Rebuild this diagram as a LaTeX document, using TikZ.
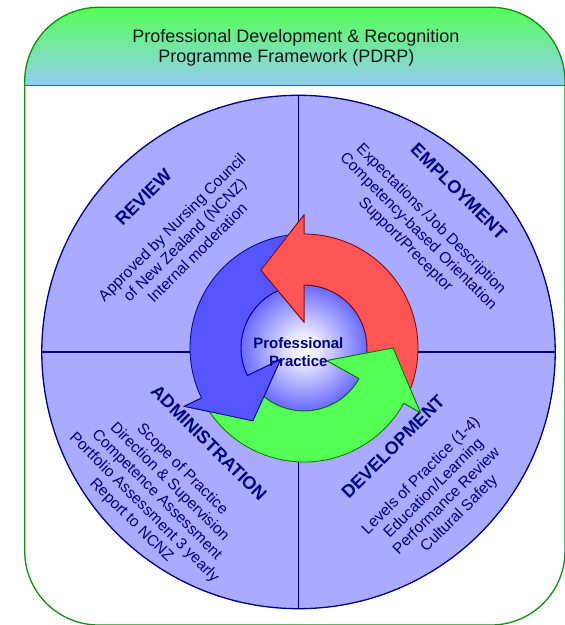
\documentclass[tikz,border=0pt]{standalone}
\usepackage{fontspec}
\setmainfont{Liberation Sans}

\definecolor{ppnavy}{RGB}{0,0,128}
\definecolor{ppdisc}{RGB}{170,170,255}
\definecolor{ppframe}{RGB}{20,140,20}
\definecolor{pphdtop}{RGB}{85,255,85}
\definecolor{pphdbot}{RGB}{150,205,242}
\definecolor{ppred}{RGB}{255,85,85}
\definecolor{ppredline}{RGB}{128,0,0}
\definecolor{ppblue}{RGB}{85,85,255}
\definecolor{ppgreen}{RGB}{85,255,85}
\definecolor{ppgreenline}{RGB}{0,120,0}
\definecolor{ppcoreedge}{RGB}{105,105,255}
\definecolor{ppcoremid}{RGB}{232,232,255}
\definecolor{pphdtext}{RGB}{25,25,25}

% glowing core behind the cycle arrows
\pgfdeclareradialshading{ppcore}{\pgfpoint{0bp}{0bp}}{%
  color(0bp)=(white); color(6bp)=(ppcoremid); color(25bp)=(ppcoreedge); color(50bp)=(ppcoreedge)}

\tikzset{
  frameline/.style={draw=ppframe, line width=1.3pt},
  divider/.style={draw=ppnavy, line width=1.1pt},
  quadtitle/.style={font=\fontsize{18}{20}\selectfont\bfseries, text=ppnavy, inner sep=0pt, align=center},
  quadbody/.style={font=\fontsize{15.5}{18}\selectfont, text=ppnavy, inner sep=0pt, align=center},
  headtext/.style={font=\fontsize{18}{20}\selectfont, text=pphdtext, inner sep=0pt},
  coretext/.style={font=\fontsize{15}{18}\selectfont\bfseries, text=ppnavy, inner sep=0pt, align=center},
}

% curved arrow of the cycle: #1 tail angle, #2 head base angle, #3 fill, #4 outline
\newcommand{\ppcyclearrow}[4]{%
  \filldraw[fill=#3, draw=#4, line width=0.8pt, line join=miter]
    (#1:114pt) arc[start angle=#1, end angle=#2, radius=114pt]
    -- (#2:133pt) -- ({#2+29}:89pt) -- (#2:26pt) -- (#2:63pt)
    arc[start angle=#2, end angle=#1, radius=63pt] -- cycle;}
% arrow head laid again on top of the next arrow's tail
\newcommand{\ppcyclehead}[3]{%
  \fill[#2] (#1:114pt) -- (#1:133pt) -- ({#1+29}:89pt) -- (#1:26pt) -- (#1:63pt) -- cycle;
  \draw[#3, line width=0.8pt, line join=miter]
    (#1:114pt) -- (#1:133pt) -- ({#1+29}:89pt) -- (#1:26pt) -- (#1:63pt);}

\begin{document}
\begin{tikzpicture}[x=1pt,y=1pt]
\useasboundingbox (0,0) rectangle (565,625);

% header band
\shade[top color=pphdtop, bottom color=pphdbot]
  (24.7,539.7) -- (24.7,543.7) arc[start angle=180, end angle=90, radius=74pt]
  -- (491,617.7) arc[start angle=90, end angle=0, radius=74pt]
  -- (565,539.7) -- cycle;

% outer frame
\draw[frameline]
  (98.7,0) -- (491,0) arc[start angle=-90, end angle=0, radius=74pt]
  -- (565,543.7) arc[start angle=0, end angle=90, radius=74pt]
  -- (98.7,617.7) arc[start angle=90, end angle=180, radius=74pt]
  -- (24.7,74) arc[start angle=180, end angle=270, radius=74pt] -- cycle;
\coordinate (hl) at (24.7,539.7);
\coordinate (hr) at (565,539.7);
\draw[frameline] (hl) -- (hr);

\node[headtext] (title1) at (295.9,587.2) {Professional Development \& Recognition};
\node[headtext] (title2) at (286.5,567.3) {Programme Framework (PDRP)};

% quartered disc
\coordinate (c) at (298.5,273);
\filldraw[fill=ppdisc, draw=ppnavy, line width=1.3pt] (c) circle[radius=256.7pt];
\coordinate (ctop) at (298.5,529.7);
\coordinate (cbot) at (298.5,16.3);
\coordinate (cleft) at (41.8,273);
\coordinate (cright) at (555.2,273);
\draw[divider] (ctop) -- (cbot);
\draw[divider] (cleft) -- (cright);

% quadrant texts
\node[quadtitle, rotate=45] (review) at (143.4,427.5) {REVIEW};
\node[quadbody, rotate=45] (reviewtxt) at (184.5,385)
  {Approved by Nursing Council\\of New Zealand (NCNZ)\\Internal moderation};
\node[quadtitle, rotate=-45] (employ) at (459,433.5) {EMPLOYMENT};
\node[quadbody, rotate=-45] (employtxt) at (418,393)
  {Expectations /Job Description\\Competency-based Orientation\\Support/Preceptor};
\node[quadtitle, rotate=-45] (admin) at (209,182) {ADMINISTRATION};
\node[quadbody, rotate=-45] (admintxt) at (156.7,130)
  {Scope of Practice\\Direction \& Supervision\\Competence Assessment\\Portfolio Assessment 3 yearly\\Report to NCNZ};
\node[quadtitle, rotate=45] (devel) at (393,178) {DEVELOPMENT};
\node[quadbody, rotate=45] (develtxt) at (440.5,130)
  {Levels of Practice (1-4)\\Education/Learning\\Performance Review\\Cultural Safety};

% cycle of three arrows around the core
\begin{scope}[shift={(304,277)}]
  \shade[shading=ppcore] (0,0) circle[radius=63pt];
  \draw[ppnavy, line width=0.8pt] (0,0) circle[radius=63pt];
  \ppcyclearrow{-24}{90}{ppred}{ppredline}
  \ppcyclearrow{95}{206}{ppblue}{ppnavy}
  \ppcyclearrow{211}{331}{ppgreen}{ppgreenline}
  \ppcyclehead{90}{ppred}{ppredline}
  \ppcyclehead{206}{ppblue}{ppnavy}
  \ppcyclehead{331}{ppgreen}{ppgreenline}
\end{scope}

\node[coretext] (core) at (298.4,273) {Professional\\Practice};
\end{tikzpicture}
\end{document}
